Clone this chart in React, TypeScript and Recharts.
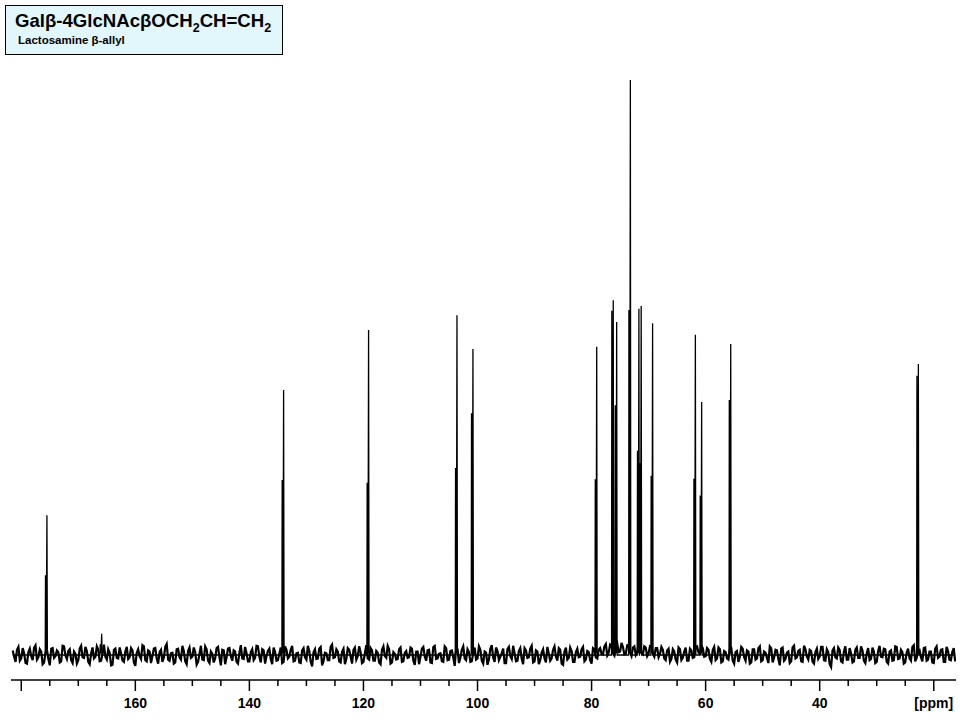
import React from 'react';
import { LineChart, Line, XAxis, YAxis } from 'recharts';

// 13C spectrum, intensities relative to the tallest line (= 100)
const peakPpm = [175.5, 165.9, 134.0, 119.1, 103.6, 100.8, 79.1, 76.2, 75.6, 73.2, 71.7, 71.3, 69.3, 61.8, 60.7, 55.6, 22.7];
const peakHeight = [24.3, 3.7, 46.1, 56.5, 59.1, 53.2, 53.6, 61.7, 57.9, 100, 60.2, 60.7, 57.7, 55.7, 44.0, 54.1, 50.6];
const peakShoulder = [0.57, 0.5, 0.66, 0.53, 0.55, 0.79, 0.57, 0.97, 0.75, 0.6, 0.59, 0.55, 0.54, 0.55, 0.63, 0.82, 0.96];

// baseline noise: readings every 0.5 ppm from 181.5 ppm down (noiseA),
// and the readings in between them, 0.25 ppm further right (noiseB)
const NOISE_START = 181.5;
const NOISE_STEP = 0.5;
const noiseA = [
  0.8, -1.2, 1.4, -0.6, 0.3, -1.5, 1.1, -0.9, 1.7, -0.4, 0.6, -1.3, 0.9, -1.8, 1.2, -0.2, 0.5, -1.1, 1.5, -0.7,
  1.0, -1.4, 0.2, -0.9, 1.6, -0.5, 0.7, -1.6, 1.3, -0.3, 0.9, -1.0, 1.8, -0.8, 0.4, -1.7, 1.1, -0.6, 0.3, -1.2,
  1.4, -0.4, 0.8, -1.9, 1.0, -0.7, 1.5, -1.1, 0.6, -0.2, 1.2, -1.5, 0.9, -0.5, 1.9, -1.0, 0.4, -1.3, 1.1, -0.8,
  0.7, -1.6, 1.3, -0.3, 0.5, -1.2, 1.6, -0.9, 1.0, -1.4, 0.2, -0.6, 1.4, -1.8, 0.8, -0.4, 1.2, -1.0, 0.6, -1.5,
  1.7, -0.7, 0.3, -1.1, 1.0, -0.5, 1.5, -1.3, 0.8, -0.2, 1.1, -1.6, 0.5, -0.9, 1.3, -1.2, 0.9, -0.3, 1.6, -1.0,
  0.4, -1.4, 1.2, -0.8, 0.7, -2.0, 1.0, -0.6, 1.4, -1.1, 0.3, -0.9, 1.8, -0.4, 0.6, -1.3, 1.1, -0.7, 0.9, -1.5,
  1.3, -0.2, 0.5, -1.2, 1.7, -0.8, 0.8, -1.0, 0.4, -1.6, 1.5, -0.5, 1.0, -1.3, 0.2, -0.7, 1.3, -1.1, 0.7, -0.4,
  1.1, -1.7, 0.6, -0.3, 1.4, -1.0, 0.9, -1.4, 1.6, -0.6, 0.3, -1.2, 1.2, -0.8, 0.8, -1.9, 1.0, -0.5, 1.5, -0.9,
  0.5, -1.1, 1.3, -0.6, 0.9, -1.5, 0.4, -0.8, 1.7, -1.2, 0.7, -0.3, 1.1, -1.4, 1.4, -0.7, 0.3, -1.0, 1.2, -1.6,
  0.8, -0.4, 1.6, -1.1, 0.6, -0.9, 1.0, -1.3, 0.2, -0.6, 1.5, -1.0, 0.9, -1.7, 1.3, -0.5, 0.7, -1.2, 1.1, -0.3,
  1.4, -0.8, 0.5, -1.5, 1.0, -0.6, 1.2, 0.1, 1.9, 0.4, 1.6, -0.1, 2.0, 0.6, 1.4, 0.2, 1.8, -0.2, 1.5, 0.5,
  1.7, 0.1, 1.3, 0.3, 1.6, -0.3, 1.2, 0.2, 0.9, -0.9, 1.1, -0.7, 0.6, -1.3, 1.0, -0.5, 1.3, -1.0, 0.8, -0.4,
  1.5, 0.2, 1.2, -0.2, 0.9, -1.2, 1.4, -0.6, 1.0, -1.1, 0.5, -0.8, 1.2, -1.5, 0.7, -0.3, 1.1, -1.0, 0.6, -1.3,
  1.0, -0.6, 1.5, -0.9, 0.4, -1.4, 1.2, -0.5, 0.8, -1.8, 1.3, -0.7, 0.6, -1.1, 1.6, -0.4, 0.9, -1.2, 1.0, -0.8,
  0.7, -1.5, 1.1, -0.3, 1.4, -1.0, 0.5, -2.1, 1.2, -0.6, 0.9, -1.3, 1.5, -0.8, 0.3, -1.1, 1.3, -0.5, 0.8, -1.4,
  1.2, -0.7, 0.6, -1.2, 1.6, -0.4, 1.0, -1.5, 0.8, -0.9, 1.4, -0.6, 0.5, -1.3, 1.1, -1.0, 1.7, -0.5, 0.9, -1.1,
  1.3, -0.8, 0.6, -1.4, 1.5, -0.3, 1.0, -1.2, 0.7, -0.9, 1.2,
];
const noiseB = [
  -0.3, 0.9, -1.0, 1.2, -1.4, 0.5, -0.2, 1.3, -0.8, 1.0, -1.6, 0.4, -0.7, 1.1, -0.5, 0.8, -1.3, 1.6, -0.1, 0.7,
  -0.9, 0.6, -1.5, 1.1, -0.4, 1.4, -1.2, 0.3, -0.6, 1.5, -1.1, 0.2, -0.3, 1.0, -1.8, 0.9, -0.5, 1.3, -1.0, 0.6,
  -0.7, 1.2, -1.3, 0.4, -0.2, 1.7, -0.9, 0.8, -1.4, 1.1, -0.6, 0.5, -1.2, 1.4, -0.8, 0.3, -1.5, 1.0, -0.4, 1.6,
  -1.1, 0.7, -0.5, 1.3, -1.7, 0.2, -0.8, 1.5, -1.0, 0.6, -1.3, 1.2, -0.4, 0.9, -1.6, 1.1, -0.2, 0.8, -1.2, 0.4,
  -0.6, 1.4, -1.1, 0.5, -0.9, 1.6, -0.3, 1.0, -1.5, 0.7, -0.7, 1.3, -1.0, 0.2, -1.4, 1.5, -0.6, 0.9, -1.1, 0.3,
  -1.3, 0.8, -0.4, 1.6, -1.2, 0.5, -0.7, 1.1, -1.8, 0.4, -0.9, 1.4, -0.5, 1.0, -1.1, 0.6, -1.6, 1.2, -0.3, 0.9,
  -0.8, 1.5, -1.4, 0.3, -0.6, 1.2, -1.0, 0.7, -1.3, 0.9, -0.2, 1.6, -1.5, 0.5, -0.8, 1.0, -1.2, 0.4, -0.5, 1.3,
  -1.0, 0.6, -1.6, 1.1, -0.3, 0.8, -1.3, 1.4, -0.7, 0.2, -1.1, 1.5, -0.9, 0.7, -0.4, 1.2, -1.4, 0.9, -0.6, 1.0,
  -1.2, 0.4, -0.8, 1.5, -1.0, 0.6, -1.7, 1.1, -0.5, 1.3, -0.9, 0.3, -1.4, 1.0, -0.2, 1.6, -1.1, 0.7, -0.7, 1.2,
  -0.5, 1.1, -1.3, 0.8, -1.6, 0.4, -0.6, 1.4, -1.0, 0.9, -0.3, 1.2, -1.5, 0.6, -0.8, 1.3, -1.2, 0.5, -0.4, 1.0,
  -1.1, 0.7, -0.9, 1.2, -0.4, 0.9, 0.2, 1.5, -0.1, 1.8, 0.3, 1.4, 0.5, 2.1, 0.1, 1.7, 0.4, 1.3, 0.0, 1.9,
  0.3, 1.5, -0.2, 1.6, 0.2, 1.2, -0.4, 1.4, -0.6, 0.8, -1.2, 1.0, -0.8, 1.3, -0.9, 0.6, -1.0, 1.1, -0.5, 1.4,
  0.4, 1.6, -0.3, 1.2, -0.7, 0.9, -0.9, 1.3, -1.3, 0.7, -0.6, 1.1, -1.0, 0.5, -1.2, 1.4, -0.4, 0.8, -1.5, 1.0,
  -0.8, 1.2, -1.1, 0.6, -0.5, 1.5, -1.3, 0.9, -0.7, 1.1, -1.0, 0.4, -1.4, 1.3, -0.6, 0.7, -1.1, 1.6, -0.3, 0.9,
  -1.2, 0.5, -0.7, 1.4, -0.9, 1.0, -1.6, 0.8, -0.4, 1.3, -1.1, 0.6, -0.8, 1.2, -1.3, 0.9, -0.5, 1.5, -1.0, 0.3,
  -0.9, 1.3, -1.4, 0.7, -0.3, 1.1, -1.2, 0.6, -1.0, 1.5, -0.7, 0.9, -1.5, 0.4, -0.6, 1.4, -1.1, 0.8, -0.4, 1.2,
  -1.0, 0.6, -1.3, 1.1, -0.5, 0.9, -1.2, 1.4, -0.8, 0.5, -1.1,
];

const xTicks = [180, 175, 170, 165, 160, 155, 150, 145, 140, 135, 130, 125, 120, 115, 110, 105, 100, 95, 90, 85, 80, 75, 70, 65, 60, 55, 50, 45, 40, 35, 30, 25, 20];
const labelled: Record<number, string> = { 160: '160', 140: '140', 120: '120', 100: '100', 80: '80', 60: '60', 40: '40', 20: '[ppm]' };

const noiseData = [
  ...noiseA.map((v, i) => ({ ppm: NOISE_START - i * NOISE_STEP, y: v })),
  ...noiseB.map((v, i) => ({ ppm: NOISE_START - i * NOISE_STEP - NOISE_STEP / 2, y: v })),
].sort((a, b) => b.ppm - a.ppm);

const peakData = (() => {
  const pts: { ppm: number; y: number }[] = [{ ppm: 181.5, y: 0 }, { ppm: 16.5, y: 0 }];
  peakPpm.forEach((p, i) => {
    const h = peakHeight[i];
    pts.push({ ppm: p + 0.3, y: 0 });
    pts.push({ ppm: p + 0.25, y: h * peakShoulder[i] });
    pts.push({ ppm: p + 0.12, y: 0.3 });
    pts.push({ ppm: p, y: h });
    pts.push({ ppm: p - 0.08, y: 0 });
  });
  return pts.sort((a, b) => b.ppm - a.ppm);
})();

const PpmTick = (props: any) => {
  const { x, y, payload } = props;
  const v = payload.value;
  const major = v % 20 === 0;
  return (
    <g>
      <line x1={x} x2={x} y1={y} y2={y + (major ? 11 : 6)} stroke="#000" strokeWidth={1.5} />
      {labelled[v] && (
        <text x={x} y={y + 28} textAnchor="middle" fontSize={14} fontWeight="bold" fill="#000"
          fontFamily="'Liberation Sans', Arial, sans-serif">
          {labelled[v]}
        </text>
      )}
    </g>
  );
};

export default function App() {
  return (
    <div style={{ position: 'absolute', left: 0, top: 0, width: 960, height: 720, background: '#fff' }}>
      <LineChart width={960} height={720} margin={{ top: 80, right: 4, bottom: 0, left: 11 }}>
        <XAxis
          dataKey="ppm"
          type="number"
          domain={[16.1, 181.8]}
          reversed
          allowDataOverflow
          ticks={xTicks}
          interval={0}
          height={40}
          tickSize={0}
          tickMargin={0}
          tickLine={false}
          axisLine={{ stroke: '#000', strokeWidth: 1.5 }}
          tick={<PpmTick />}
        />
        <YAxis hide type="number" domain={[-4.35, 100]} allowDataOverflow />
        <Line data={noiseData} dataKey="y" type="linear" stroke="#000" strokeWidth={2.2} dot={false} isAnimationActive={false} />
        <Line data={peakData} dataKey="y" type="linear" stroke="#000" strokeWidth={1.3} dot={false} isAnimationActive={false} />
      </LineChart>
      <div
        style={{
          position: 'absolute', left: 5, top: 5, width: 278, height: 50, boxSizing: 'border-box',
          border: '1px solid #000', background: '#E2F7FB',
          fontFamily: "'Liberation Sans', Arial, sans-serif", fontWeight: 'bold', color: '#000',
        }}
      >
        <div style={{ position: 'absolute', left: 9, top: 5, fontSize: 18.6, lineHeight: '20px', whiteSpace: 'nowrap' }}>
          Galβ-4GlcNAcβOCH<sub style={{ fontSize: 12.5, lineHeight: 0 }}>2</sub>CH=CH<sub style={{ fontSize: 12.5, lineHeight: 0 }}>2</sub>
        </div>
        <div style={{ position: 'absolute', left: 12, top: 28, fontSize: 11.5, lineHeight: '12px', whiteSpace: 'nowrap' }}>
          Lactosamine β-allyl
        </div>
      </div>
    </div>
  );
}
